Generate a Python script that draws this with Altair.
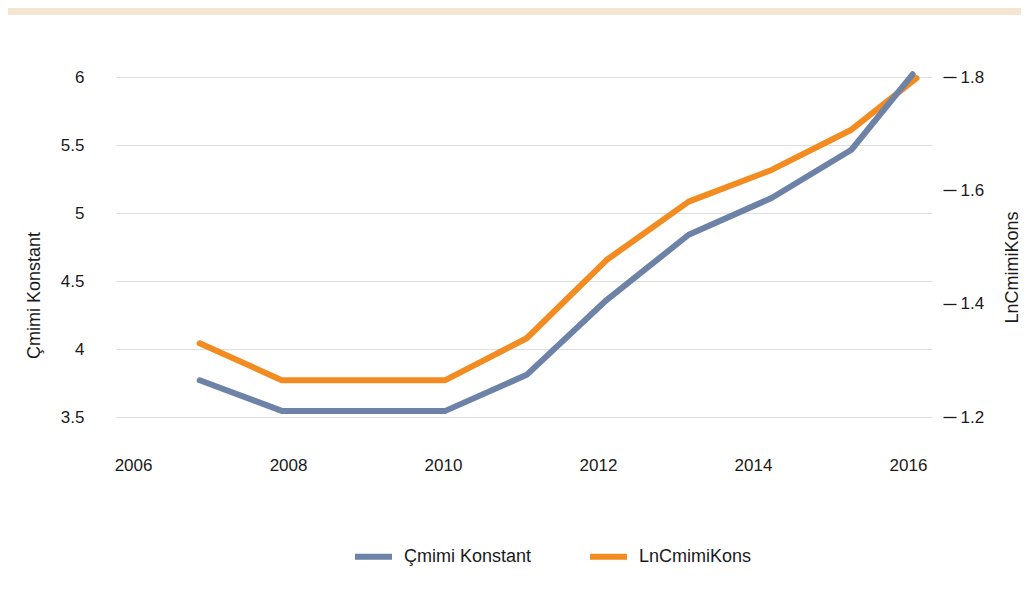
import altair as alt
import pandas as pd

# ---- data ----
years_cmimi = [2006.86, 2007.92, 2010.03, 2011.08, 2012.11, 2013.17, 2014.24, 2015.27, 2016.06]
cmimi_konstant = [3.77, 3.545, 3.545, 3.81, 4.36, 4.84, 5.11, 5.465, 6.02]

years_ln = [2006.86, 2007.92, 2010.03, 2011.08, 2012.11, 2013.17, 2014.24, 2015.27, 2016.11]
ln_cmimi_kons = [1.330, 1.265, 1.265, 1.339, 1.477, 1.580, 1.636, 1.707, 1.798]

x_ticks = [2006, 2008, 2010, 2012, 2014, 2016]
left_ticks = [3.5, 4, 4.5, 5, 5.5, 6]
right_ticks = [1.2, 1.4, 1.6, 1.8]
series_names = ["Çmimi Konstant", "LnCmimiKons"]
series_colors = ["#6c82a6", "#f28b20"]

df_c = pd.DataFrame({"year": years_cmimi, "value": cmimi_konstant, "series": series_names[0]})
df_l = pd.DataFrame({"year": years_ln, "value": ln_cmimi_kons, "series": series_names[1]})

FONT = "Liberation Sans"
TXT = "#1a1a1a"
W, H = 816, 340
PAD = {"left": 108, "top": 69, "right": 89, "bottom": 165}

x_scale = alt.Scale(domain=[2005.78, 2016.31], nice=False, zero=False)
x_axis = alt.Axis(values=x_ticks, format="d", grid=False, domain=False, ticks=False,
                  labelPadding=40, title=None, labelFontSize=17)

color_scale = alt.Scale(domain=series_names, range=series_colors)
legend = alt.Legend(orient="none", direction="horizontal", legendX=236, legendY=458,
                    title=None, symbolType="stroke", symbolSize=1369, symbolStrokeWidth=6,
                    labelFontSize=18, labelOffset=9, columnPadding=46, padding=0,
                    labelFont=FONT, labelColor=TXT)
color_enc = alt.Color("series:N", scale=color_scale, legend=legend)

line_kw = dict(strokeWidth=6, strokeCap="round", strokeJoin="round")

strip = alt.Chart(alt.Data(values=[{}])).mark_rect(color="#f5e6d1").encode(
    x=alt.value(-PAD["left"]), x2=alt.value(W + PAD["right"]),
    y=alt.value(-PAD["top"]), y2=alt.value(-PAD["top"] + 7)
)

orange = alt.Chart(df_l).mark_line(**line_kw).encode(
    x=alt.X("year:Q", scale=x_scale, axis=x_axis),
    y=alt.Y("value:Q", scale=alt.Scale(domain=[1.2, 1.8], nice=False, zero=False),
            axis=alt.Axis(orient="right", values=right_ticks, format=".1f", grid=False,
                          domain=False, ticks=True, tickSize=13, tickColor=TXT, tickWidth=1.3,
                          offset=11, labelPadding=4, labelFontSize=17,
                          title="LnCmimiKons", titleAngle=270, titleX=74, titleY=190,
                          titleAlign="center", titleBaseline="alphabetic",
                          titleFontSize=18, titleFontWeight="normal")),
    color=color_enc,
)

blue = alt.Chart(df_c).mark_line(**line_kw).encode(
    x=alt.X("year:Q", scale=x_scale, axis=x_axis),
    y=alt.Y("value:Q", scale=alt.Scale(domain=[3.5, 6], nice=False, zero=False),
            axis=alt.Axis(orient="left", values=left_ticks, format="~g", grid=True,
                          gridColor="#dedede", gridWidth=1, domain=False, ticks=False,
                          labelPadding=32, labelFontSize=17,
                          title="Çmimi Konstant", titleAngle=270, titleX=-77, titleY=218,
                          titleAlign="center", titleBaseline="alphabetic",
                          titleFontSize=18, titleFontWeight="normal")),
    color=color_enc,
)

chart = alt.layer(strip, orange, blue).resolve_scale(y="independent").properties(
    width=W, height=H,
    autosize=alt.AutoSizeParams(type="none"),
    padding=PAD,
    background="white",
).configure_view(stroke=None).configure_axis(
    labelFont=FONT, titleFont=FONT, labelColor=TXT, titleColor=TXT
)

chart.save("out.html", embed_options={"renderer": "svg", "actions": False})
